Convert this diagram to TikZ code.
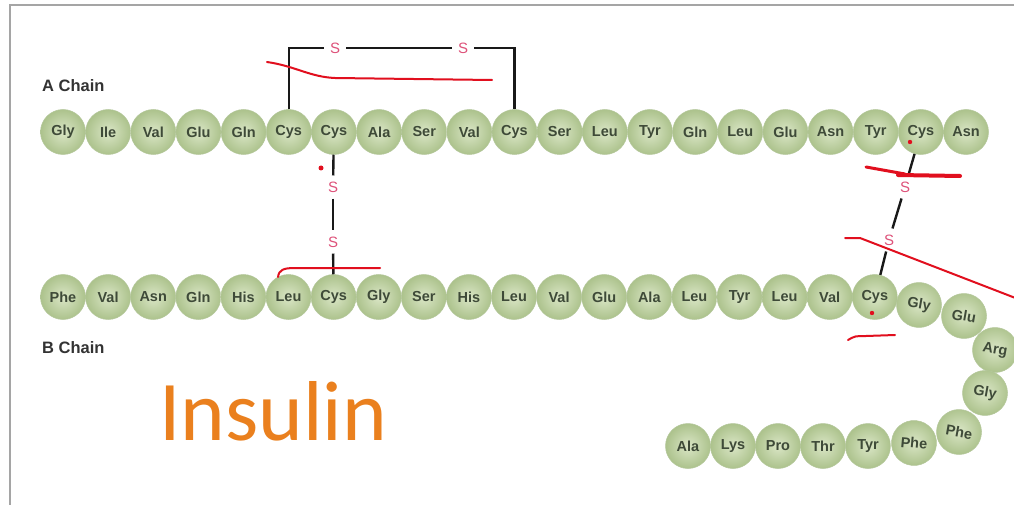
\documentclass[tikz,border=0pt]{standalone}
\usepackage{fontspec}
\setmainfont{Liberation Sans}
\newfontfamily\calib{Carlito}
\definecolor{resin}{RGB}{218,230,198}
\definecolor{resout}{RGB}{172,194,140}
\definecolor{resedge}{RGB}{180,199,155}
\definecolor{restext}{RGB}{62,74,56}
\definecolor{spink}{RGB}{222,82,122}
\definecolor{inkred}{RGB}{225,15,30}
\definecolor{orng}{RGB}{234,128,30}
\definecolor{framegray}{RGB}{165,165,165}
\begin{document}
\begin{tikzpicture}[x=1pt,y=-1pt,
  res/.style={circle, minimum size=45pt, inner sep=0pt, draw=resedge, line width=0.5pt,
    inner color=resin, outer color=resout, text=restext,
    font=\bfseries\fontsize{14.5}{14.5}\selectfont},
  sul/.style={text=spink, font=\fontsize{15}{15}\selectfont, inner sep=6pt},
  bond/.style={line width=2.4pt, draw=black!90},
  ink/.style={draw=inkred, line width=2pt, line cap=round, line join=round},
  chainlbl/.style={font=\bfseries\fontsize{16.5}{16.5}\selectfont, text=black!80, anchor=west, inner sep=0pt},
  framel/.style={draw=framegray, line width=1.6pt}]
\useasboundingbox (0,0) rectangle (1014,505);
\fill[white] (0,0) rectangle (1014,505);
\draw[framel] (10,505) -- (10,5) -- (1014,5);

% labels
\node[chainlbl] (la) at (42,86) {A Chain};
\node[chainlbl] (lb) at (42,348) {B Chain};
\node[anchor=base west, inner sep=0pt, text=orng, font=\calib\fontsize{85}{85}\selectfont] (ins) at (159,440) {Insulin};

% A chain
\foreach \n [count=\i] in {Gly,Ile,Val,Glu,Gln,Cys,Cys,Ala,Ser,Val,Cys,Ser,Leu,Tyr,Gln,Leu,Glu,Asn,Tyr,Cys,Asn}
  \node[res] (a\i) at ({63+(\i-1)*45.15},132) {\n};

% B chain
\foreach \n [count=\i] in {Phe,Val,Asn,Gln,His,Leu,Cys,Gly,Ser,His,Leu,Val,Glu,Ala,Leu,Tyr,Leu,Val,Cys}
  \node[res] (b\i) at ({63+(\i-1)*45.1},297) {\n};
\node[res, rotate=-10] (b20) at (919,305) {Gly};
\node[res, rotate=-10] (b21) at (964,316) {Glu};
\node[res, rotate=-10] (b22) at (995,350) {Arg};
\node[res, rotate=-10] (b23) at (985,393) {Gly};
\node[res, rotate=-10] (b24) at (959,432) {Phe};
\node[res, rotate=-5] (b25) at (914,443) {Phe};
\node[res] (b26) at (868,446) {Tyr};
\node[res] (b27) at (823,446) {Thr};
\node[res] (b28) at (778,446) {Pro};
\node[res] (b29) at (733,446) {Lys};
\node[res] (b30) at (688,446) {Ala};

% sulfur labels
\node[sul] (s1) at (335,48) {S};
\node[sul] (s2) at (463,48) {S};
\node[sul] (s3) at (333,187) {S};
\node[sul] (s4) at (333,242) {S};
\node[sul] (s5) at (905,187) {S};
\node[sul] (s6) at (889,240) {S};
\coordinate (k1) at (a6.north |- s1);
\coordinate (k2) at (a11.north |- s2);

% disulfide bonds
\draw[bond] (a6.north) -- (k1) -- (s1);
\draw[bond] (s1) -- (s2);
\draw[bond] (s2) -- (k2) -- (a11.north);
\draw[bond] (a7) -- (s3);
\draw[bond] (s3) -- (s4);
\draw[bond] (s4) -- (b7);
\draw[bond] (a20) -- (s5);
\draw[bond] (s5) -- (s6);
\draw[bond] (s6) -- (b19);

% red hand annotations
\draw[ink] (267,62) .. controls (295,66) and (310,77) .. (335,78) -- (492,80);
\fill[inkred] (321,168) circle (2.5);
\draw[ink] (278,277) .. controls (279,270) and (283,268) .. (295,268) -- (380,268);
\fill[inkred] (910,142) circle (2.2);
\draw[ink, line width=3pt] (866,167) -- (905,174);
\draw[ink, line width=4pt] (898,175) -- (960,176);
\draw[ink] (845,238) -- (860,238) -- (1018,299);
\fill[inkred] (872,313) circle (2.2);
\draw[ink] (848,340) .. controls (855,336) .. (866,336) -- (895,335);
\end{tikzpicture}
\end{document}
